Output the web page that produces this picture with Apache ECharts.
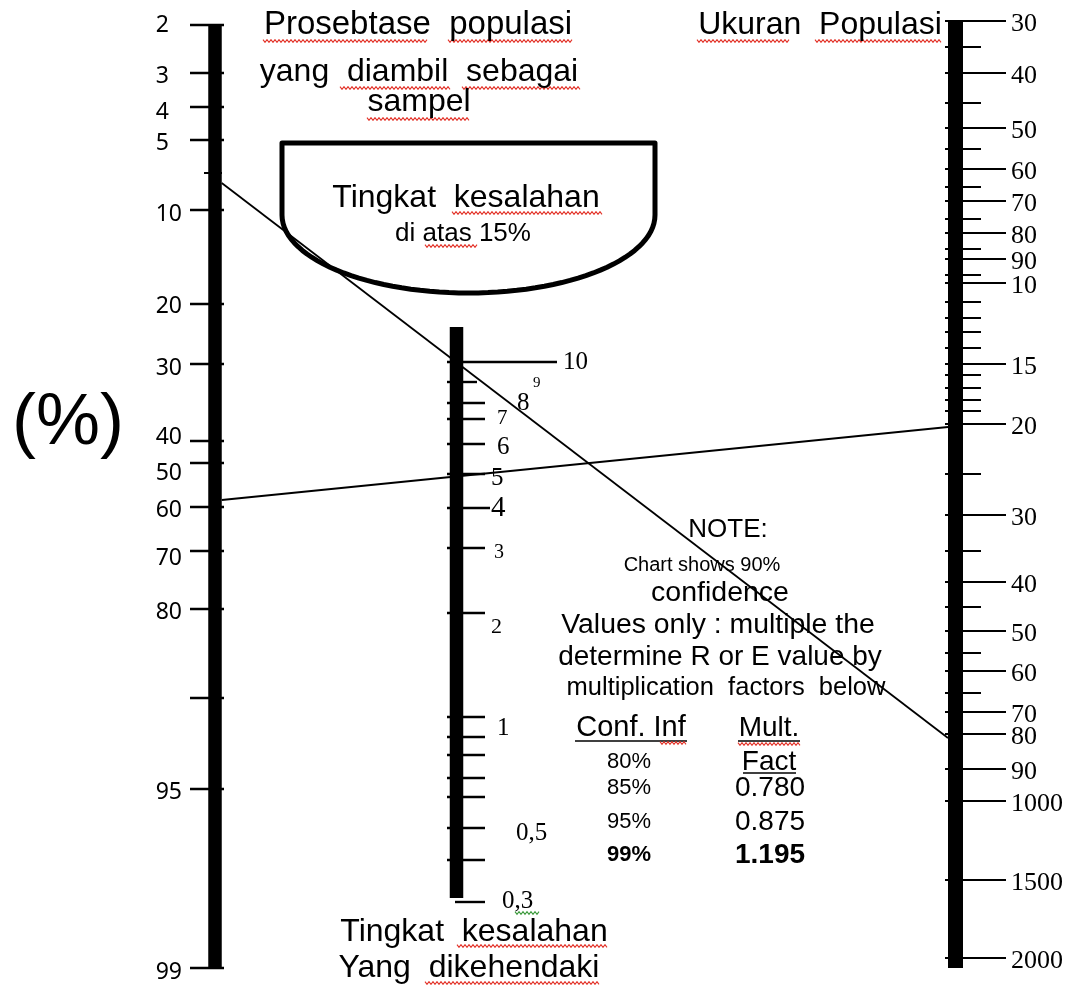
<!DOCTYPE html>
<html><head><meta charset="utf-8">
<script src="https://cdn.jsdelivr.net/npm/echarts@6/dist/echarts.min.js"></script>
<style>html,body{margin:0;padding:0;background:#fff}#c{width:1066px;height:986px}</style>
</head><body><div id="c"></div>
<script>
// ================= DATA =================
// Left scale: percentage of population taken as sample
const leftTickLabels = ['2','3','4','5','10','20','30','40','50','60','70','80','','95','99'];
const leftTickPos    = [25, 73, 107, 140, 210, 304, 364, 441, 463, 507, 551, 609, 698, 789, 968];
const leftMinorPos   = [173];
// Middle scale: desired error level
const midTickLabels = ['10','9','8','7','6','5','4','3','2','1','','','','','0,5','','0,3'];
const midTickPos    = [362, 382, 403, 419, 444, 474, 508, 548, 613, 717, 737, 755, 778, 797, 828, 860, 902];
// Right scale: population size
const rightTickLabels = ['30','','40','','50','','60','','70','','80','','90','','10','','','','','15','','','','','20','','30','','40','','50','','60','','70','80','90','1000','1500','2000'];
const rightTickPos    = [21, 47, 73, 103, 128, 149, 169, 187, 201, 219, 233, 249, 259, 275, 283, 302, 318, 332, 348, 364, 375, 388, 400, 411, 424, 474, 515, 551, 582, 607, 631, 653, 671, 693, 712, 734, 769, 801, 880, 958];
// Example reading lines: [position on left scale, position on right scale]
const readingLines = [[183, 738], [500, 427]];
// Confidence table
const confLevels  = ['80%', '85%', '95%', '99%'];
const multFactors = ['', '0.780', '0.875', '1.195'];

// ================= LAYOUT =================
const cols = [
  {x: 215,   w: 13.5, top: 25,  bottom: 968},
  {x: 456.5, w: 13.5, top: 327, bottom: 898},
  {x: 955.5, w: 15,   top: 22,  bottom: 968}
];
const SANS = '"Liberation Sans", Arial, sans-serif';
const SERIF = '"Liberation Serif", "Times New Roman", serif';
const NS = '"Noto Sans", "DejaVu Sans", sans-serif';
const leftLabelDy = {'2':0,'3':3,'4':5,'5':3,'10':4,'20':2,'30':4,'40':-4,'50':10,'60':3,'70':7,'80':3,'95':3,'99':4};
// [label x (left aligned), dy, font size]
const midLabelLayout = {
  '10':[563,0,25], '9':[533,1,15], '8':[517,0,25], '7':[497,-1,21], '6':[497,3,25], '5':[491,4,25],
  '4':[491,0,29], '3':[494,5,20], '2':[491,14,22], '1':[497,11,25], '0,5':[516,5,25], '0,3':[502,-1,25]
};

function line(a, b, w) {
  return {type:'line', shape:{x1:a[0], y1:a[1], x2:b[0], y2:b[1]}, style:{stroke:'#000', lineWidth:w}};
}
function txt(p, s, font, align) {
  return {type:'text', style:{x:p[0], y:p[1], text:s, font:font, fill:'#000',
    textAlign:align, align:align, textVerticalAlign:'middle', verticalAlign:'middle'}};
}

const barSeries = {
  type:'custom', silent:true, data: cols.map((c,i)=>[i,0]),
  renderItem(params, api) {
    const c = cols[api.value(0)];
    const p1 = api.coord([c.x - c.w/2, c.top]), p2 = api.coord([c.x + c.w/2, c.bottom]);
    return {type:'rect', shape:{x:p1[0], y:p1[1], width:p2[0]-p1[0], height:p2[1]-p1[1]}, style:{fill:'#000'}};
  }
};

const leftSeries = {
  type:'custom', silent:true, data: leftTickPos.map((p,i)=>[i,p]),
  renderItem(params, api) {
    const i = api.value(0), p = api.value(1), lab = leftTickLabels[i];
    const ch = [line(api.coord([190,p]), api.coord([224,p]), 2.4)];
    if (lab) {
      const x = lab.length === 1 ? 169 : 182;
      ch.push(txt(api.coord([x, p + (leftLabelDy[lab] || 0)]), lab, '23px ' + NS, 'right'));
    }
    return {type:'group', children: ch};
  }
};
const leftMinorSeries = {
  type:'custom', silent:true, data: leftMinorPos.map((p,i)=>[i,p]),
  renderItem(params, api) {
    const p = api.value(1);
    return line(api.coord([204,p]), api.coord([222,p]), 2);
  }
};

const midSeries = {
  type:'custom', silent:true, data: midTickPos.map((p,i)=>[i,p]),
  renderItem(params, api) {
    const i = api.value(0), p = api.value(1), lab = midTickLabels[i];
    let x1 = 447, x2 = 485;
    if (lab === '10') x2 = 557;
    else if (lab === '9') x2 = 477;
    else if (lab === '4') x2 = 490;
    else if (lab === '0,3') x1 = 455;
    const ch = [line(api.coord([x1,p]), api.coord([x2,p]), 2.4)];
    if (lab && midLabelLayout[lab]) {
      const L = midLabelLayout[lab];
      ch.push(txt(api.coord([L[0], p + L[1]]), lab, L[2] + 'px ' + SERIF, 'left'));
    }
    return {type:'group', children: ch};
  }
};

const rightSeries = {
  type:'custom', silent:true, data: rightTickPos.map((p,i)=>[i,p]),
  renderItem(params, api) {
    const i = api.value(0), p = api.value(1), lab = rightTickLabels[i];
    const ch = [line(api.coord([945,p]), api.coord([lab ? 1006 : 981, p]), 2)];
    if (lab) ch.push(txt(api.coord([1011, p + 3]), lab, '26px ' + SERIF, 'left'));
    return {type:'group', children: ch};
  }
};

const readingSeries = readingLines.map(r => ({
  type:'line', silent:true, symbol:'none', animation:false,
  data: [[cols[0].x + cols[0].w/2, r[0]], [cols[2].x - cols[2].w/2, r[1]]],
  lineStyle:{color:'#000', width:1.8}
}));

// Bowl ("Tingkat kesalahan di atas 15%") region
const bowl = {left: 282, right: 655, top: 143, side: 215, depth: 78};
const bowlSeries = {
  type:'custom', silent:true, data:[[0,0]],
  renderItem(params, api) {
    const cx = (bowl.left + bowl.right) / 2, rx = (bowl.right - bowl.left) / 2;
    const pts = [api.coord([bowl.left, bowl.top]), api.coord([bowl.right, bowl.top])];
    for (let k = 0; k <= 60; k++) {
      const t = Math.PI * k / 60;
      pts.push(api.coord([cx + rx * Math.cos(t), bowl.side + bowl.depth * Math.sin(t)]));
    }
    return {type:'polygon', shape:{points:pts}, style:{fill:'none', stroke:'#000', lineWidth:5, lineJoin:'round'}};
  }
};

// ================= TEXT & DECORATION =================
const graphic = [];
function T(s, x, y, size, opt) {
  opt = opt || {};
  graphic.push({type:'text', silent:true, z:50, style:{x:x, y:y, text:s,
    font:(opt.bold ? 'bold ' : '') + size + 'px ' + (opt.family || SANS), fill:'#000',
    textAlign:opt.align || 'center', textVerticalAlign:'middle'}});
}
function wavy(x1, x2, y, color) {
  const pts = []; let up = true;
  for (let x = x1; x <= x2; x += 2) { pts.push([x, y + (up ? -1.4 : 1.4)]); up = !up; }
  graphic.push({type:'polyline', silent:true, z:49, shape:{points:pts}, style:{stroke:color, lineWidth:1.1, fill:null}});
}
function uline(x1, x2, y) {
  graphic.push({type:'line', silent:true, z:49, shape:{x1:x1, y1:y, x2:x2, y2:y}, style:{stroke:'#000', lineWidth:1.6}});
}

T('Prosebtase  populasi', 418, 25, 33);
T('yang  diambil  sebagai', 419, 72, 32);
T('sampel', 419, 102, 32);
T('Ukuran  Populasi', 820, 25, 32);
T('Tingkat  kesalahan', 466, 198, 32);
T('di atas 15%', 463, 234, 26);
T('(%)', 68, 424, 72);
T('Tingkat  kesalahan', 474, 932, 32);
T('Yang  dikehendaki', 469, 968, 32);

T('NOTE:', 728, 530, 26);
T('Chart shows 90%', 702, 565, 20);
T('confidence', 720, 593, 28.5);
T('Values only : multiple the', 718, 625, 28.4);
T('determine R or E value by', 720, 657, 28);
T('multiplication  factors  below', 726, 688, 25.5);
T('Conf. Inf', 631, 728, 29);
T('Mult.', 769, 728, 28);
T('Fact', 769, 762, 28);
uline(575, 687, 741); uline(738, 800, 741); uline(743, 796, 773);
const rowY = [762, 788, 822, 855];
confLevels.forEach((c, i) => {
  T(c, 629, rowY[i], 22, {bold: i === 3});
  if (multFactors[i]) T(multFactors[i], 770, rowY[i], 28, {bold: i === 3});
});

const RED = '#e3342a';
[[263,428,41],[448,572,41],[340,450,88],[462,580,88],[367,470,119],[697,790,41],[815,942,41],
 [452,602,213],[425,477,246],[660,687,743],[738,800,744],[457,608,946],[425,600,983]]
 .forEach(w => wavy(w[0], w[1], w[2], RED));
wavy(515, 540, 913, '#3c9a3c');

const chart = echarts.init(document.getElementById('c'));
chart.setOption({
  animation: false,
  backgroundColor: '#fff',
  grid: {left:0, right:0, top:0, bottom:0},
  xAxis: {type:'value', min:0, max:1066, show:false},
  yAxis: {type:'value', min:0, max:986, inverse:true, show:false},
  series: [bowlSeries, leftSeries, leftMinorSeries, midSeries, rightSeries, barSeries].concat(readingSeries),
  graphic: graphic
});
</script></body></html>
